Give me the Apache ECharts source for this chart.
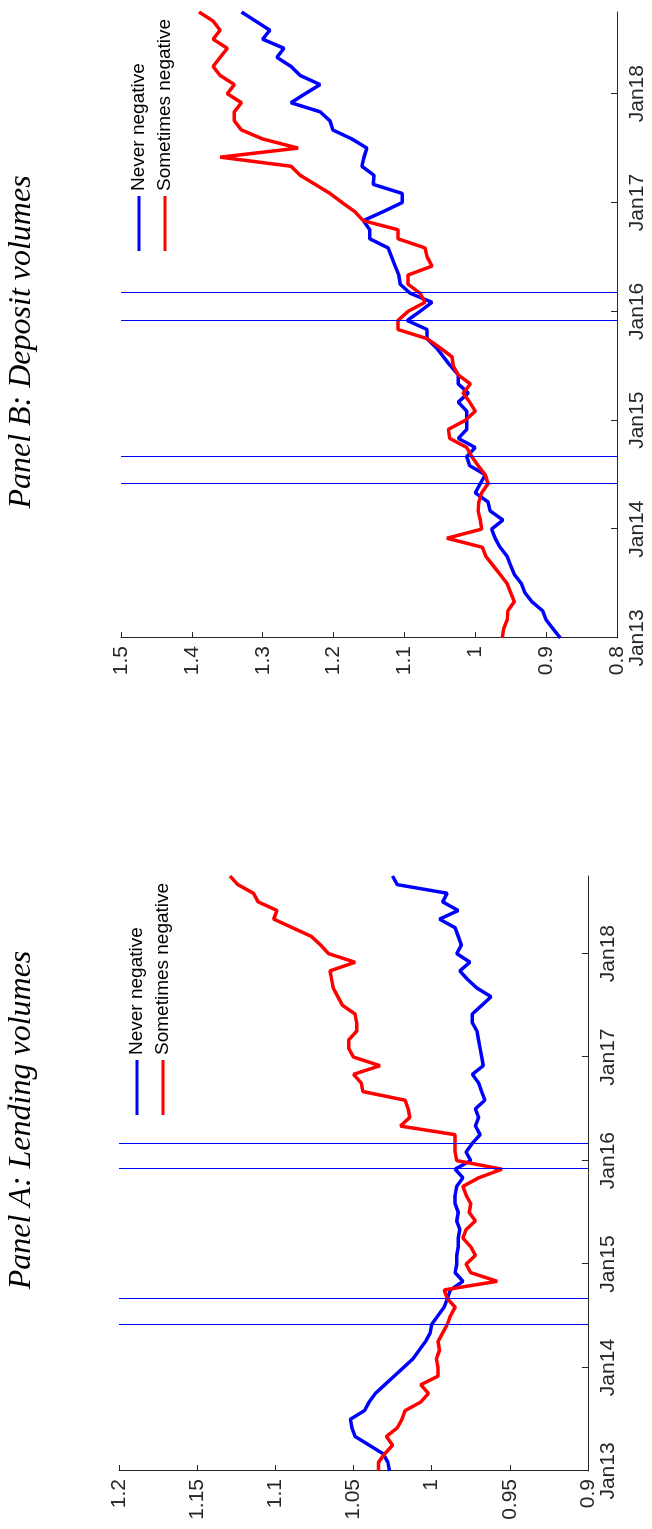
<!DOCTYPE html>
<html><head><meta charset="utf-8">
<script src="https://cdn.jsdelivr.net/npm/echarts@6/dist/echarts.min.js"></script>
<style>
html,body{margin:0;padding:0;background:#fff;overflow:hidden;width:652px;height:1529px}
#chart{position:absolute;left:0;top:0;width:1529px;height:652px;transform-origin:0 0;transform:translate(0,1529px) rotate(-90deg);}
</style></head><body><div id="chart"></div>
<script>
// Monthly observations, Jan 2013 .. Oct 2018
const startYear = 2013;
const nMonths = 70;
const months = [];
for (let i = 0; i < nMonths; i++) {
  const y = startYear + Math.floor(i / 12), m = (i % 12) + 1;
  months.push(y + '-' + (m < 10 ? '0' + m : m));
}
const seriesNames = ['Never negative', 'Sometimes negative'];
const eventMonths = ['2014-06', '2014-09', '2015-12', '2016-03'];
const titles = ['Panel A: Lending volumes', 'Panel B: Deposit volumes'];

// Panel A: Lending volumes
const lendingNever = [1.027,1.028,1.031,1.040,1.049,1.051,1.052,1.043,1.040,1.036,
  1.030,1.024,1.018,1.012,1.008,1.004,1.001,1.000,0.996,0.992,
  0.990,0.988,0.980,0.985,0.984,0.984,0.983,0.983,0.982,0.984,
  0.983,0.985,0.985,0.984,0.980,0.985,0.975,0.978,0.974,0.969,
  0.972,0.970,0.972,0.966,0.968,0.970,0.974,0.967,0.968,0.969,
  0.970,0.971,0.974,0.974,0.968,0.962,0.971,0.977,0.982,0.9755,
  0.984,0.981,0.983,0.985,0.995,0.983,0.993,0.990,1.022,1.025];
const lendingSometimes = [1.034,1.034,1.030,1.025,1.029,1.022,1.019,1.017,1.007,1.002,
  1.007,0.996,0.996,0.997,0.995,0.996,0.993,0.990,0.988,0.985,
  0.990,0.992,0.958,0.975,0.978,0.972,0.975,0.980,0.978,0.972,
  0.976,0.975,0.978,0.980,0.970,0.955,0.984,0.985,0.985,0.985,
  1.020,1.014,1.015,1.017,1.044,1.045,1.050,1.033,1.050,1.053,
  1.053,1.048,1.048,1.049,1.057,1.060,1.063,1.064,1.065,1.049,
  1.066,1.071,1.077,1.089,1.101,1.099,1.111,1.114,1.124,1.129];

// Panel B: Deposit volumes
const depositNever = [0.880,0.890,0.900,0.905,0.920,0.930,0.935,0.945,0.950,0.955,
  0.965,0.972,0.977,0.961,0.979,0.982,1.000,0.993,0.986,1.008,
  1.012,1.000,1.024,1.012,1.012,1.012,1.024,1.010,1.024,1.024,
  1.035,1.045,1.055,1.068,1.068,1.096,1.078,1.061,1.092,1.106,
  1.108,1.113,1.118,1.123,1.149,1.149,1.158,1.130,1.103,1.103,
  1.144,1.143,1.160,1.157,1.153,1.174,1.201,1.205,1.219,1.260,
  1.240,1.219,1.247,1.260,1.280,1.270,1.300,1.290,1.310,1.330];
const depositSometimes = [0.962,0.960,0.955,0.954,0.945,0.950,0.955,0.965,0.975,0.985,
  0.990,1.040,0.991,0.993,0.996,0.995,0.991,0.982,0.986,0.996,
  1.005,1.012,1.036,1.038,1.014,1.000,1.008,1.017,1.007,1.024,
  1.031,1.033,1.050,1.068,1.109,1.109,1.095,1.071,1.078,1.095,
  1.095,1.061,1.068,1.071,1.109,1.109,1.158,1.170,1.188,1.205,
  1.226,1.247,1.260,1.360,1.250,1.300,1.330,1.340,1.340,1.330,
  1.350,1.340,1.360,1.370,1.360,1.350,1.370,1.360,1.370,1.390];

const AX = '#262626';
const FONT = '"Liberation Sans", Arial, sans-serif';
const isJan = (i) => i % 12 === 0;

function xAxisFor(g) {
  return {
    type: 'category', gridIndex: g, data: months, boundaryGap: false,
    axisLine: { show: true, onZero: false, lineStyle: { color: AX, width: 1 } },
    axisTick: { show: true, inside: true, length: 6, interval: isJan, lineStyle: { color: AX } },
    axisLabel: { interval: isJan, margin: 10, color: AX, fontSize: 21, fontFamily: FONT,
      formatter: (v) => v.endsWith('-01') ? 'Jan' + v.slice(2, 4) : '' },
    splitLine: { show: false }
  };
}
function yAxisFor(g, min, max, interval) {
  return {
    type: 'value', gridIndex: g, min: min, max: max, interval: interval,
    axisLine: { show: true, onZero: false, lineStyle: { color: AX, width: 1 } },
    axisTick: { show: true, inside: true, length: 6, lineStyle: { color: AX } },
    axisLabel: { margin: 8, color: AX, fontSize: 21, fontFamily: FONT,
      formatter: (v) => String(parseFloat(v.toFixed(2))) },
    splitLine: { show: false }
  };
}
function lineSeries(name, g, values, color, withEvents) {
  const s = {
    name: name, type: 'line', xAxisIndex: g, yAxisIndex: g,
    data: values, symbol: 'none', color: color,
    lineStyle: { color: color, width: 3.5 }, animation: false
  };
  if (withEvents) {
    s.markLine = {
      silent: true, symbol: ['none', 'none'], label: { show: false },
      lineStyle: { color: '#0000FF', width: 1, type: 'solid' },
      data: eventMonths.map((m) => ({ xAxis: m })), animation: false
    };
  }
  return s;
}
function legendAt(left, top) {
  return {
    data: seriesNames, orient: 'vertical', left: left, top: top, padding: 0,
    icon: 'rect', itemWidth: 55, itemHeight: 3, itemGap: 0, selectedMode: false,
    textStyle: { fontSize: 19, lineHeight: 26, color: '#000', fontFamily: FONT }
  };
}

const chart = echarts.init(document.getElementById('chart'), null, { renderer: 'canvas', width: 1529, height: 652 });
chart.setOption({
  backgroundColor: '#fff',
  animation: false,
  grid: [
    { left: 58, top: 119, width: 595, height: 469 },
    { left: 891, top: 121, width: 626, height: 496 }
  ],
  xAxis: [xAxisFor(0), xAxisFor(1)],
  yAxis: [yAxisFor(0, 0.9, 1.2, 0.05), yAxisFor(1, 0.8, 1.5, 0.1)],
  legend: [legendAt(414, 124), legendAt(1278, 126)],
  graphic: [
    { type: 'text', x: 409, y: 22, style: { text: titles[0], font: 'italic 32px "Liberation Serif", "Times New Roman", serif', fill: '#000', align: 'center', verticalAlign: 'middle', textAlign: 'center', textVerticalAlign: 'middle' } },
    { type: 'text', x: 1187, y: 22, style: { text: titles[1], font: 'italic 32px "Liberation Serif", "Times New Roman", serif', fill: '#000', align: 'center', verticalAlign: 'middle', textAlign: 'center', textVerticalAlign: 'middle' } }
  ],
  series: [
    lineSeries(seriesNames[0], 0, lendingNever, '#0000FF', true),
    lineSeries(seriesNames[1], 0, lendingSometimes, '#FF0000', false),
    lineSeries(seriesNames[0], 1, depositNever, '#0000FF', true),
    lineSeries(seriesNames[1], 1, depositSometimes, '#FF0000', false)
  ]
});
</script></body></html>
